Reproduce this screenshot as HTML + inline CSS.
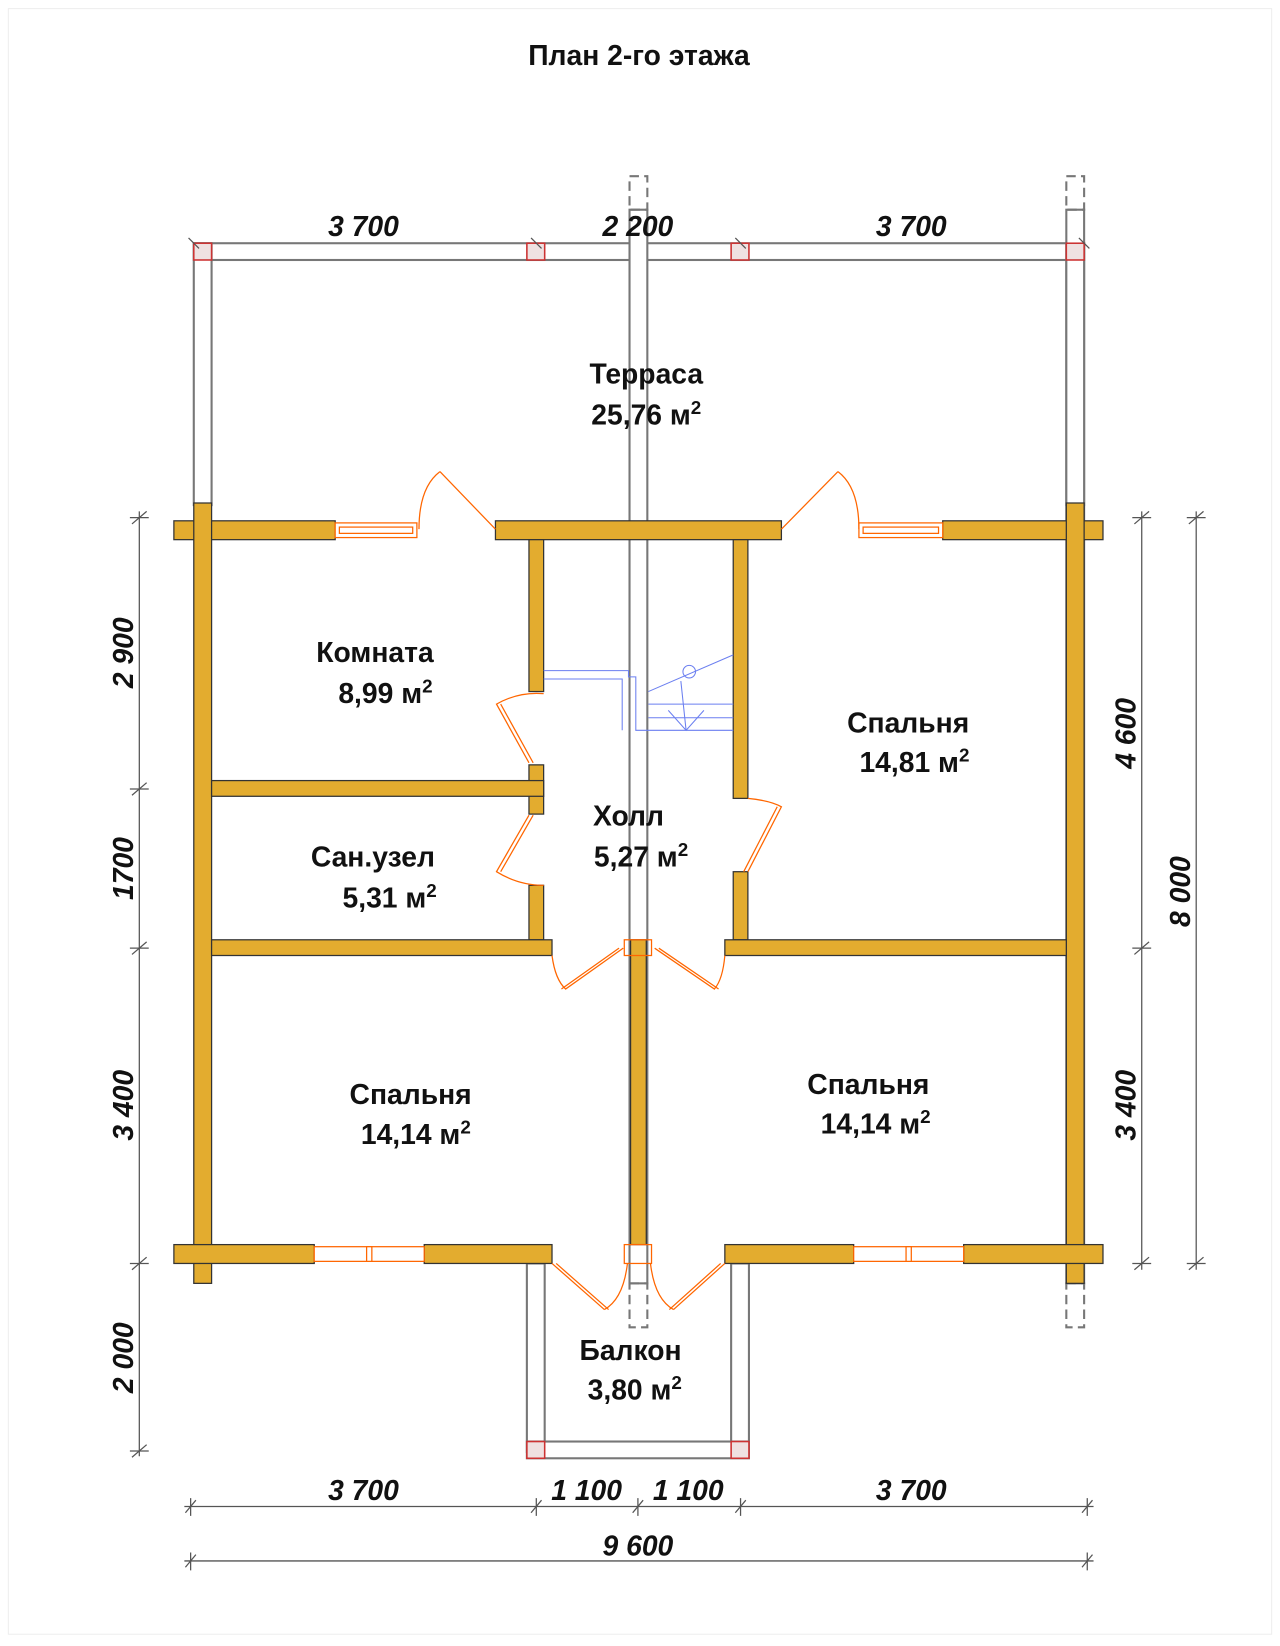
<!DOCTYPE html>
<html><head><meta charset="utf-8"><style>
html,body{margin:0;padding:0;background:#fff;}
svg{display:block;}
text{font-family:"Liberation Sans Narrow","Liberation Sans",sans-serif;fill:#111;}
.r{font-size:27px;font-weight:bold;text-anchor:middle;}
.d{font-size:27px;font-style:italic;font-weight:bold;text-anchor:middle;}
</style></head><body>
<svg width="1280" height="1646" viewBox="0 0 1222 1571" xmlns="http://www.w3.org/2000/svg">
<rect x="8" y="8" width="1206" height="1552" fill="none" stroke="#eee" stroke-width="1"/>
<text x="610" y="62" style="font-size:27px;font-weight:bold;text-anchor:middle">План 2-го этажа</text>

<g fill="#fff" stroke="#777" stroke-width="2">
<rect x="185" y="232" width="850" height="16"/>
<rect x="185" y="232" width="17" height="250"/>
<rect x="1018" y="232" width="17" height="250"/>
<rect x="601" y="200" width="17" height="1025"/>
<rect x="1018" y="200" width="17" height="1025"/>
<rect x="503" y="1206" width="17" height="180"/>
<rect x="698" y="1206" width="17" height="180"/>
<rect x="503" y="1376" width="212" height="16"/>
</g>
<g fill="none" stroke="#777" stroke-width="2" stroke-dasharray="9,5">
<rect x="601" y="168" width="17" height="32"/>
<rect x="1018" y="168" width="17" height="32"/>
<rect x="601" y="1225" width="17" height="42"/>
<rect x="1018" y="1225" width="17" height="42"/>
</g>
<g fill="#efe1e1" stroke="#c33" stroke-width="1.5">
<rect x="185" y="232" width="17" height="16"/>
<rect x="503" y="232" width="17" height="16"/>
<rect x="698" y="232" width="17" height="16"/>
<rect x="1018" y="232" width="17" height="16"/>
<rect x="503" y="1376" width="17" height="16"/>
<rect x="698" y="1376" width="17" height="16"/>
</g>

<g fill="#e3ac2f" stroke="#333" stroke-width="1.2">
<rect x="166" y="497" width="154" height="18"/>
<rect x="473" y="497" width="273" height="18"/>
<rect x="900" y="497" width="153" height="18"/>
<rect x="185" y="480" width="17" height="745"/>
<rect x="1018" y="480" width="17" height="745"/>
<rect x="166" y="1188" width="134" height="18"/>
<rect x="405" y="1188" width="122" height="18"/>
<rect x="692" y="1188" width="123" height="18"/>
<rect x="920" y="1188" width="133" height="18"/>
<rect x="505" y="515" width="14" height="145"/>
<rect x="505" y="730" width="14" height="47"/>
<rect x="505" y="845" width="14" height="52"/>
<rect x="202" y="745" width="317" height="15"/>
<rect x="202" y="897" width="325" height="15"/>
<rect x="602" y="897" width="15" height="291"/>
<rect x="700" y="515" width="14" height="247"/>
<rect x="700" y="832" width="14" height="65"/>
<rect x="692" y="897" width="326" height="15"/>
</g>

<g fill="#fff" stroke="#f60" stroke-width="1.2">
<rect x="320" y="499" width="78" height="14"/><rect x="324" y="503" width="70" height="6"/>
<rect x="820" y="499" width="80" height="14"/><rect x="824" y="503" width="72" height="6"/>
<rect x="300" y="1190" width="105" height="14"/><rect x="350" y="1190" width="5" height="14"/>
<rect x="815" y="1190" width="105" height="14"/><rect x="865" y="1190" width="5" height="14"/>
</g>
<g fill="none" stroke="#f60" stroke-width="1.2">
<path d="M473 505 L420 450 M400 505 Q400 465 420 450"/>
<path d="M746 505 L800 450 M820 505 Q820 465 800 450"/>
<path d="M519 662 Q495 660 474 672 L505 728 M478 672 L509 728"/>
<path d="M519 845 Q495 845 474 832 L505 778 M478 832 L509 778"/>
<path d="M714 762 Q735 764 746 770 L714 832 M742 770 L710 832"/>
<path d="M527 912 Q530 935 540 944 L595 905 M536 944 L591 905"/>
<path d="M692 912 Q690 935 682 944 L625 905 M686 944 L629 905"/>
<path d="M527 1206 L577 1250 M531 1206 L581 1250 M599 1206 Q595 1240 577 1250"/>
<path d="M692 1206 L643 1250 M688 1206 L639 1250 M621 1206 Q625 1240 643 1250"/>
<rect x="596" y="897" width="26" height="15"/>
<rect x="596" y="1188" width="26" height="18"/>
</g>
<g fill="none" stroke="#6b7ff0" stroke-width="1">
<path d="M519 640 L600 640 L600 646 L607 646 L607 697 L700 697"/>
<path d="M519 648 L594 648 L594 697"/>
<path d="M619 660 L700 625 M619 672 L700 672 M619 685 L700 685 M650 650 L655 697"/>
<path d="M638 678 L655 697 L672 678"/>
<circle cx="658" cy="641" r="6"/>
</g>

<text class="r" x="617" y="366">Терраса</text>
<text class="r" x="617" y="405">25,76 м<tspan dy="-10" font-size="18">2</tspan></text>
<text class="r" x="358" y="632">Комната</text>
<text class="r" x="368" y="671">8,99 м<tspan dy="-10" font-size="18">2</tspan></text>
<text class="r" x="356" y="827">Сан.узел</text>
<text class="r" x="372" y="866">5,31 м<tspan dy="-10" font-size="18">2</tspan></text>
<text class="r" x="600" y="788">Холл</text>
<text class="r" x="612" y="827">5,27 м<tspan dy="-10" font-size="18">2</tspan></text>
<text class="r" x="867" y="699">Спальня</text>
<text class="r" x="873" y="737">14,81 м<tspan dy="-10" font-size="18">2</tspan></text>
<text class="r" x="392" y="1054">Спальня</text>
<text class="r" x="397" y="1092">14,14 м<tspan dy="-10" font-size="18">2</tspan></text>
<text class="r" x="829" y="1044">Спальня</text>
<text class="r" x="836" y="1082">14,14 м<tspan dy="-10" font-size="18">2</tspan></text>
<text class="r" x="602" y="1298">Балкон</text>
<text class="r" x="606" y="1336">3,80 м<tspan dy="-10" font-size="18">2</tspan></text>

<g stroke="#555" stroke-width="1.2" fill="none">
<path d="M133 488 V1390"/>
<path d="M1090 488 V1212"/>
<path d="M1142 488 V1212"/>
<path d="M176 1438 H1044"/>
<path d="M176 1490 H1044"/>
<path d="M126 500 L140 488 M126 759 L140 747 M126 911 L140 899 M126 1212 L140 1200 M126 1391 L140 1379"/>
<path d="M124 494 H142 M124 753 H142 M124 905 H142 M124 1206 H142 M124 1385 H142"/>
<path d="M1083 500 L1097 488 M1083 911 L1097 899 M1083 1212 L1097 1200"/>
<path d="M1081 494 H1099 M1081 905 H1099 M1081 1206 H1099"/>
<path d="M1135 500 L1149 488 M1135 1212 L1149 1200"/>
<path d="M1133 494 H1151 M1133 1206 H1151"/>
<path d="M182 1430 V1447 M512 1430 V1447 M609 1430 V1447 M707 1430 V1447 M1038 1430 V1447"/>
<path d="M177 1444 L187 1432 M507 1444 L517 1432 M604 1444 L614 1432 M702 1444 L712 1432 M1033 1444 L1043 1432"/>
<path d="M182 1482 V1499 M1038 1482 V1499 M177 1496 L187 1484 M1033 1496 L1043 1484"/>
<path d="M180 227 L190 237 M507 227 L517 237 M702 227 L712 237 M1030 227 L1040 237"/>
</g>
<text class="d" x="347" y="225">3 700</text>
<text class="d" x="609" y="225">2 200</text>
<text class="d" x="870" y="225">3 700</text>
<text class="d" x="347" y="1432">3 700</text>
<text class="d" x="560" y="1432">1 100</text>
<text class="d" x="657" y="1432">1 100</text>
<text class="d" x="870" y="1432">3 700</text>
<text class="d" x="609" y="1485">9 600</text>
<text class="d" transform="translate(127,623) rotate(-90)">2 900</text>
<text class="d" transform="translate(127,829) rotate(-90)">1700</text>
<text class="d" transform="translate(127,1055) rotate(-90)">3 400</text>
<text class="d" transform="translate(127,1296) rotate(-90)">2 000</text>
<text class="d" transform="translate(1084,700) rotate(-90)">4 600</text>
<text class="d" transform="translate(1084,1055) rotate(-90)">3 400</text>
<text class="d" transform="translate(1136,851) rotate(-90)">8 000</text>
</svg>
</body></html>
